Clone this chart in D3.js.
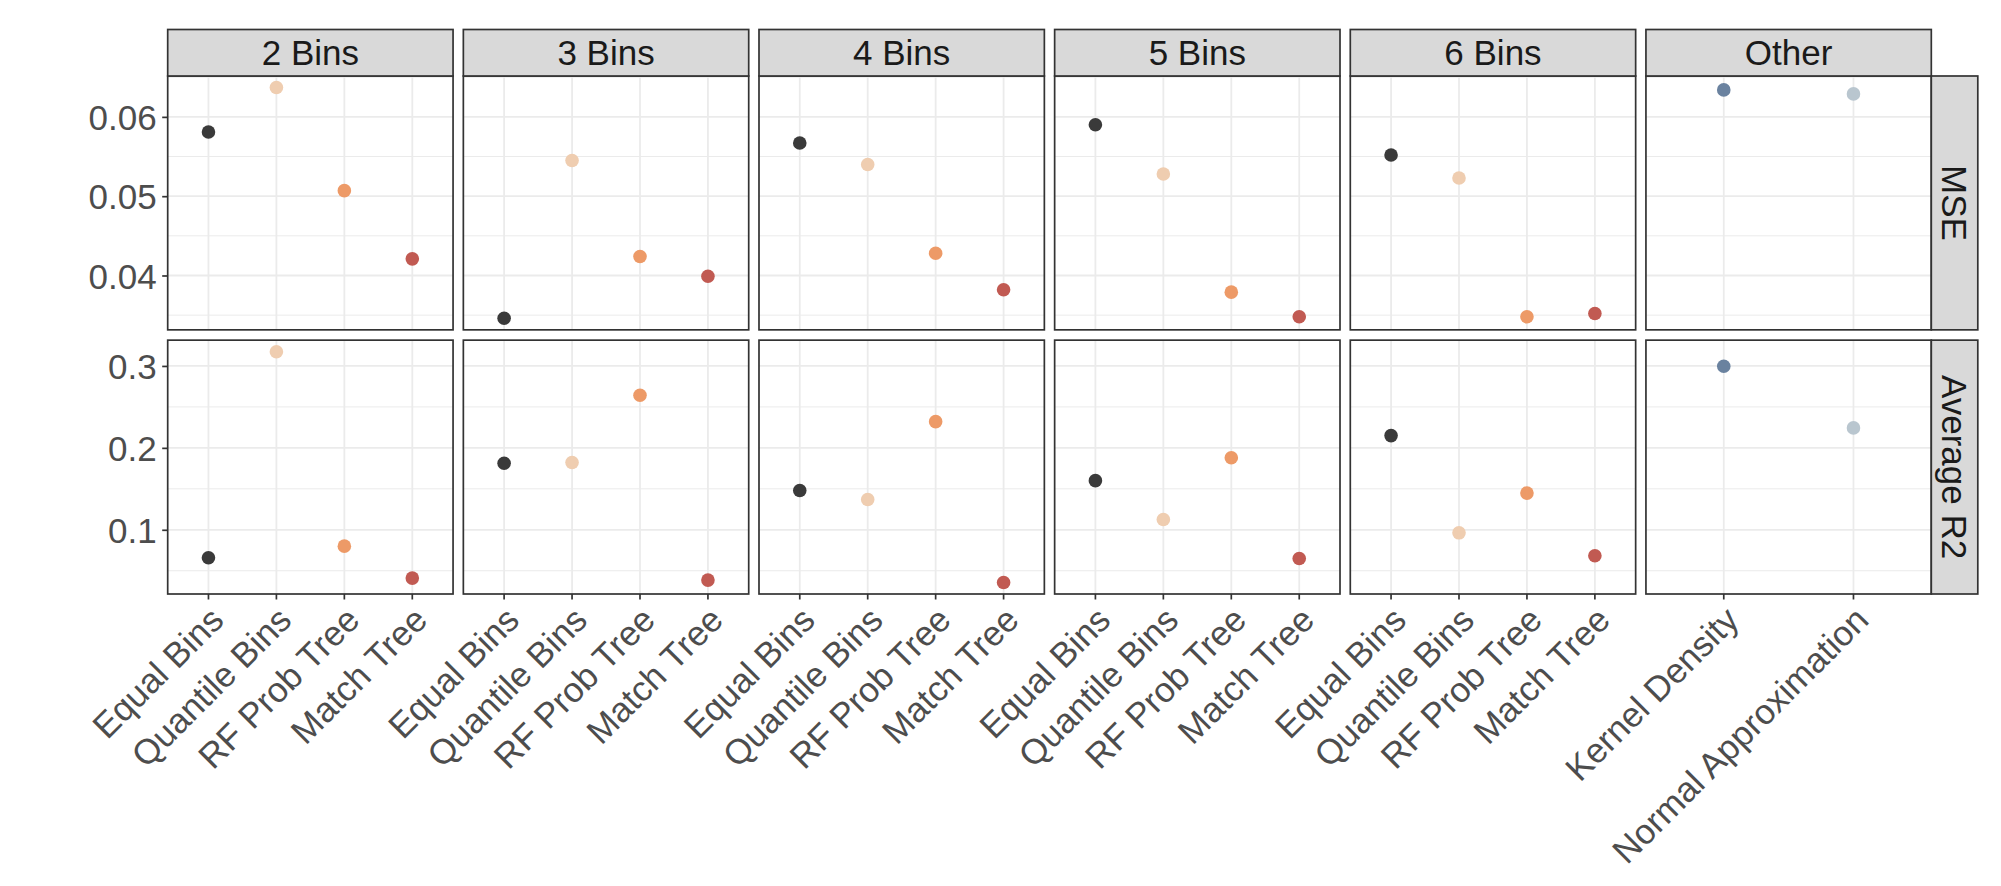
<!DOCTYPE html>
<html>
<head>
<meta charset="utf-8">
<script src="https://cdn.jsdelivr.net/npm/d3@7"></script>
<style>
  body { margin: 0; background: #fff; }
  text { font-family: "Liberation Sans", Arial, Helvetica, sans-serif; }
</style>
</head>
<body>
<svg class="chart"></svg>
<script>
// Facet columns, rows and the methods inside each column.
var columns = ["2 Bins", "3 Bins", "4 Bins", "5 Bins", "6 Bins", "Other"];
var metrics = ["MSE", "Average R2"];
var binMethods = ["Equal Bins", "Quantile Bins", "RF Prob Tree", "Match Tree"];
var otherMethods = ["Kernel Density", "Normal Approximation"];

// Values per method, one entry per bin column (2..6 bins).
var mseEqual    = [0.0581, 0.0346, 0.0567, 0.0590, 0.0552];
var mseQuantile = [0.0637, 0.0545, 0.0540, 0.0528, 0.0523];
var mseRF       = [0.0507, 0.0424, 0.0428, 0.0379, 0.0348];
var mseMatch    = [0.0421, 0.0399, 0.0382, 0.0348, 0.0352];
var mseOther    = [0.0634, 0.0629];

var r2Equal    = [0.0659, 0.1813, 0.1480, 0.1600, 0.2150];
var r2Quantile = [0.3174, 0.1821, 0.1370, 0.1126, 0.0963];
var r2RF       = [0.0800, 0.2643, 0.2320, 0.1880, 0.1448];
var r2Match    = [0.0410, 0.0386, 0.0357, 0.0650, 0.0683];
var r2Other    = [0.2996, 0.2244];

// Tick labels for each row.
var mseTicks = [0.04, 0.05, 0.06];
var r2Ticks = [0.1, 0.2, 0.3];

var colors = {
    "Equal Bins": "#3a3a3a",
    "Quantile Bins": "#efcdb0",
    "RF Prob Tree": "#ed9a67",
    "Match Tree": "#c15a52",
    "Kernel Density": "#6a829f",
    "Normal Approximation": "#b9c6cf"
};

// Build long-format rows from the arrays.
var data = [];
var binSeries = {
    "MSE": [mseEqual, mseQuantile, mseRF, mseMatch],
    "Average R2": [r2Equal, r2Quantile, r2RF, r2Match]
};
var otherSeries = { "MSE": mseOther, "Average R2": r2Other };
metrics.forEach(function (m) {
    columns.slice(0, 5).forEach(function (c, ci) {
        binMethods.forEach(function (meth, mi) {
            data.push({ metric: m, column: c, method: meth, value: binSeries[m][mi][ci] });
        });
    });
    otherMethods.forEach(function (meth, mi) {
        data.push({ metric: m, column: "Other", method: meth, value: otherSeries[m][mi] });
    });
});

var width = 2001, height = 886;
var svg = d3.select(".chart").attr("width", width).attr("height", height);

// Panel placement.
var colBand = d3.scaleBand().domain(columns).range([167.7, 1931.3]).paddingInner(0.0348);
var rowBand = d3.scaleBand().domain(metrics).range([76, 594]).paddingInner(0.039);
var pw = colBand.bandwidth(), ph = rowBand.bandwidth();
var stripH = 46.5;

// y scales per row, expanded 5% like ggplot.
var yScales = {}, ticks = { "MSE": mseTicks, "Average R2": r2Ticks };
metrics.forEach(function (m) {
    var ext = d3.extent(data.filter(function (d) { return d.metric === m; }), function (d) { return d.value; });
    var pad = (ext[1] - ext[0]) * 0.05;
    yScales[m] = d3.scaleLinear().domain([ext[0] - pad, ext[1] + pad]).range([ph, 0]);
});

var grid = "#ebebeb", border = "#333333";

metrics.forEach(function (m, ri) {
    var y = yScales[m];
    var t = ticks[m];
    var step = t[1] - t[0];
    var minor = [t[0] - step / 2].concat(t.map(function (v) { return v + step / 2; }))
        .filter(function (v) { var dm = y.domain(); return v >= dm[0] && v <= dm[1]; });

    columns.forEach(function (c, ci) {
        var methods = c === "Other" ? otherMethods : binMethods;
        var x = d3.scalePoint().domain(methods).range([0, pw]).padding(0.6);
        var g = svg.append("g")
            .attr("transform", "translate(" + colBand(c) + "," + rowBand(m) + ")");

        g.append("rect").attr("width", pw).attr("height", ph).attr("fill", "#fff");

        g.selectAll(".minor").data(minor).enter().append("line")
            .attr("x1", 0).attr("x2", pw)
            .attr("y1", function (d) { return y(d); }).attr("y2", function (d) { return y(d); })
            .attr("stroke", grid).attr("stroke-width", 1);
        g.selectAll(".major").data(t).enter().append("line")
            .attr("x1", 0).attr("x2", pw)
            .attr("y1", function (d) { return y(d); }).attr("y2", function (d) { return y(d); })
            .attr("stroke", grid).attr("stroke-width", 1.8);
        g.selectAll(".vgrid").data(methods).enter().append("line")
            .attr("x1", function (d) { return x(d); }).attr("x2", function (d) { return x(d); })
            .attr("y1", 0).attr("y2", ph)
            .attr("stroke", grid).attr("stroke-width", 1.8);

        g.selectAll(".dot")
            .data(data.filter(function (d) { return d.metric === m && d.column === c; }))
            .enter().append("circle")
            .attr("cx", function (d) { return x(d.method); })
            .attr("cy", function (d) { return y(d.value); })
            .attr("r", 6.8)
            .attr("fill", function (d) { return colors[d.method]; });

        g.append("rect").attr("width", pw).attr("height", ph)
            .attr("fill", "none").attr("stroke", border).attr("stroke-width", 1.7);

        // Left axis on the first column.
        if (ci === 0) {
            var ya = g.append("g").call(d3.axisLeft(y).tickValues(t).tickSize(5.5).tickFormat(d3.format("")));
            ya.select(".domain").remove();
            ya.selectAll("line").attr("stroke", border).attr("stroke-width", 1.7);
            ya.selectAll("text").attr("x", -11).attr("dy", "0.36em")
                .attr("fill", "#4d4d4d").style("font-size", "35px")
                .style("font-family", "'Liberation Sans', Arial, sans-serif");
        }

        // Bottom axis on the last row.
        if (ri === metrics.length - 1) {
            var xa = g.append("g").attr("transform", "translate(0," + ph + ")");
            xa.selectAll("line").data(methods).enter().append("line")
                .attr("x1", function (d) { return x(d); }).attr("x2", function (d) { return x(d); })
                .attr("y1", 0).attr("y2", 5.5)
                .attr("stroke", border).attr("stroke-width", 1.7);
            xa.selectAll("text").data(methods).enter().append("text")
                .attr("transform", function (d) { return "translate(" + x(d) + ",11) rotate(-45)"; })
                .attr("text-anchor", "end")
                .attr("dy", "0.69em")
                .attr("fill", "#4d4d4d").style("font-size", "35px")
                .text(function (d) { return d; });
        }

        // Column strips on top.
        if (ri === 0) {
            var s = svg.append("g").attr("transform", "translate(" + colBand(c) + "," + (rowBand(m) - stripH) + ")");
            s.append("rect").attr("width", pw).attr("height", stripH)
                .attr("fill", "#d9d9d9").attr("stroke", border).attr("stroke-width", 1.7);
            s.append("text").attr("x", pw / 2).attr("y", stripH / 2).attr("dy", "0.36em")
                .attr("text-anchor", "middle").attr("fill", "#1a1a1a").style("font-size", "35px")
                .text(c);
        }
    });

    // Row strip on the right.
    var rx = colBand(columns[columns.length - 1]) + pw;
    var rs = svg.append("g").attr("transform", "translate(" + rx + "," + rowBand(m) + ")");
    rs.append("rect").attr("width", stripH).attr("height", ph)
        .attr("fill", "#d9d9d9").attr("stroke", border).attr("stroke-width", 1.7);
    rs.append("text")
        .attr("transform", "translate(" + (stripH / 2) + "," + (ph / 2) + ") rotate(90)")
        .attr("dy", "0.36em").attr("text-anchor", "middle")
        .attr("fill", "#1a1a1a").style("font-size", "35px")
        .text(m);
});
</script>
</body>
</html>
